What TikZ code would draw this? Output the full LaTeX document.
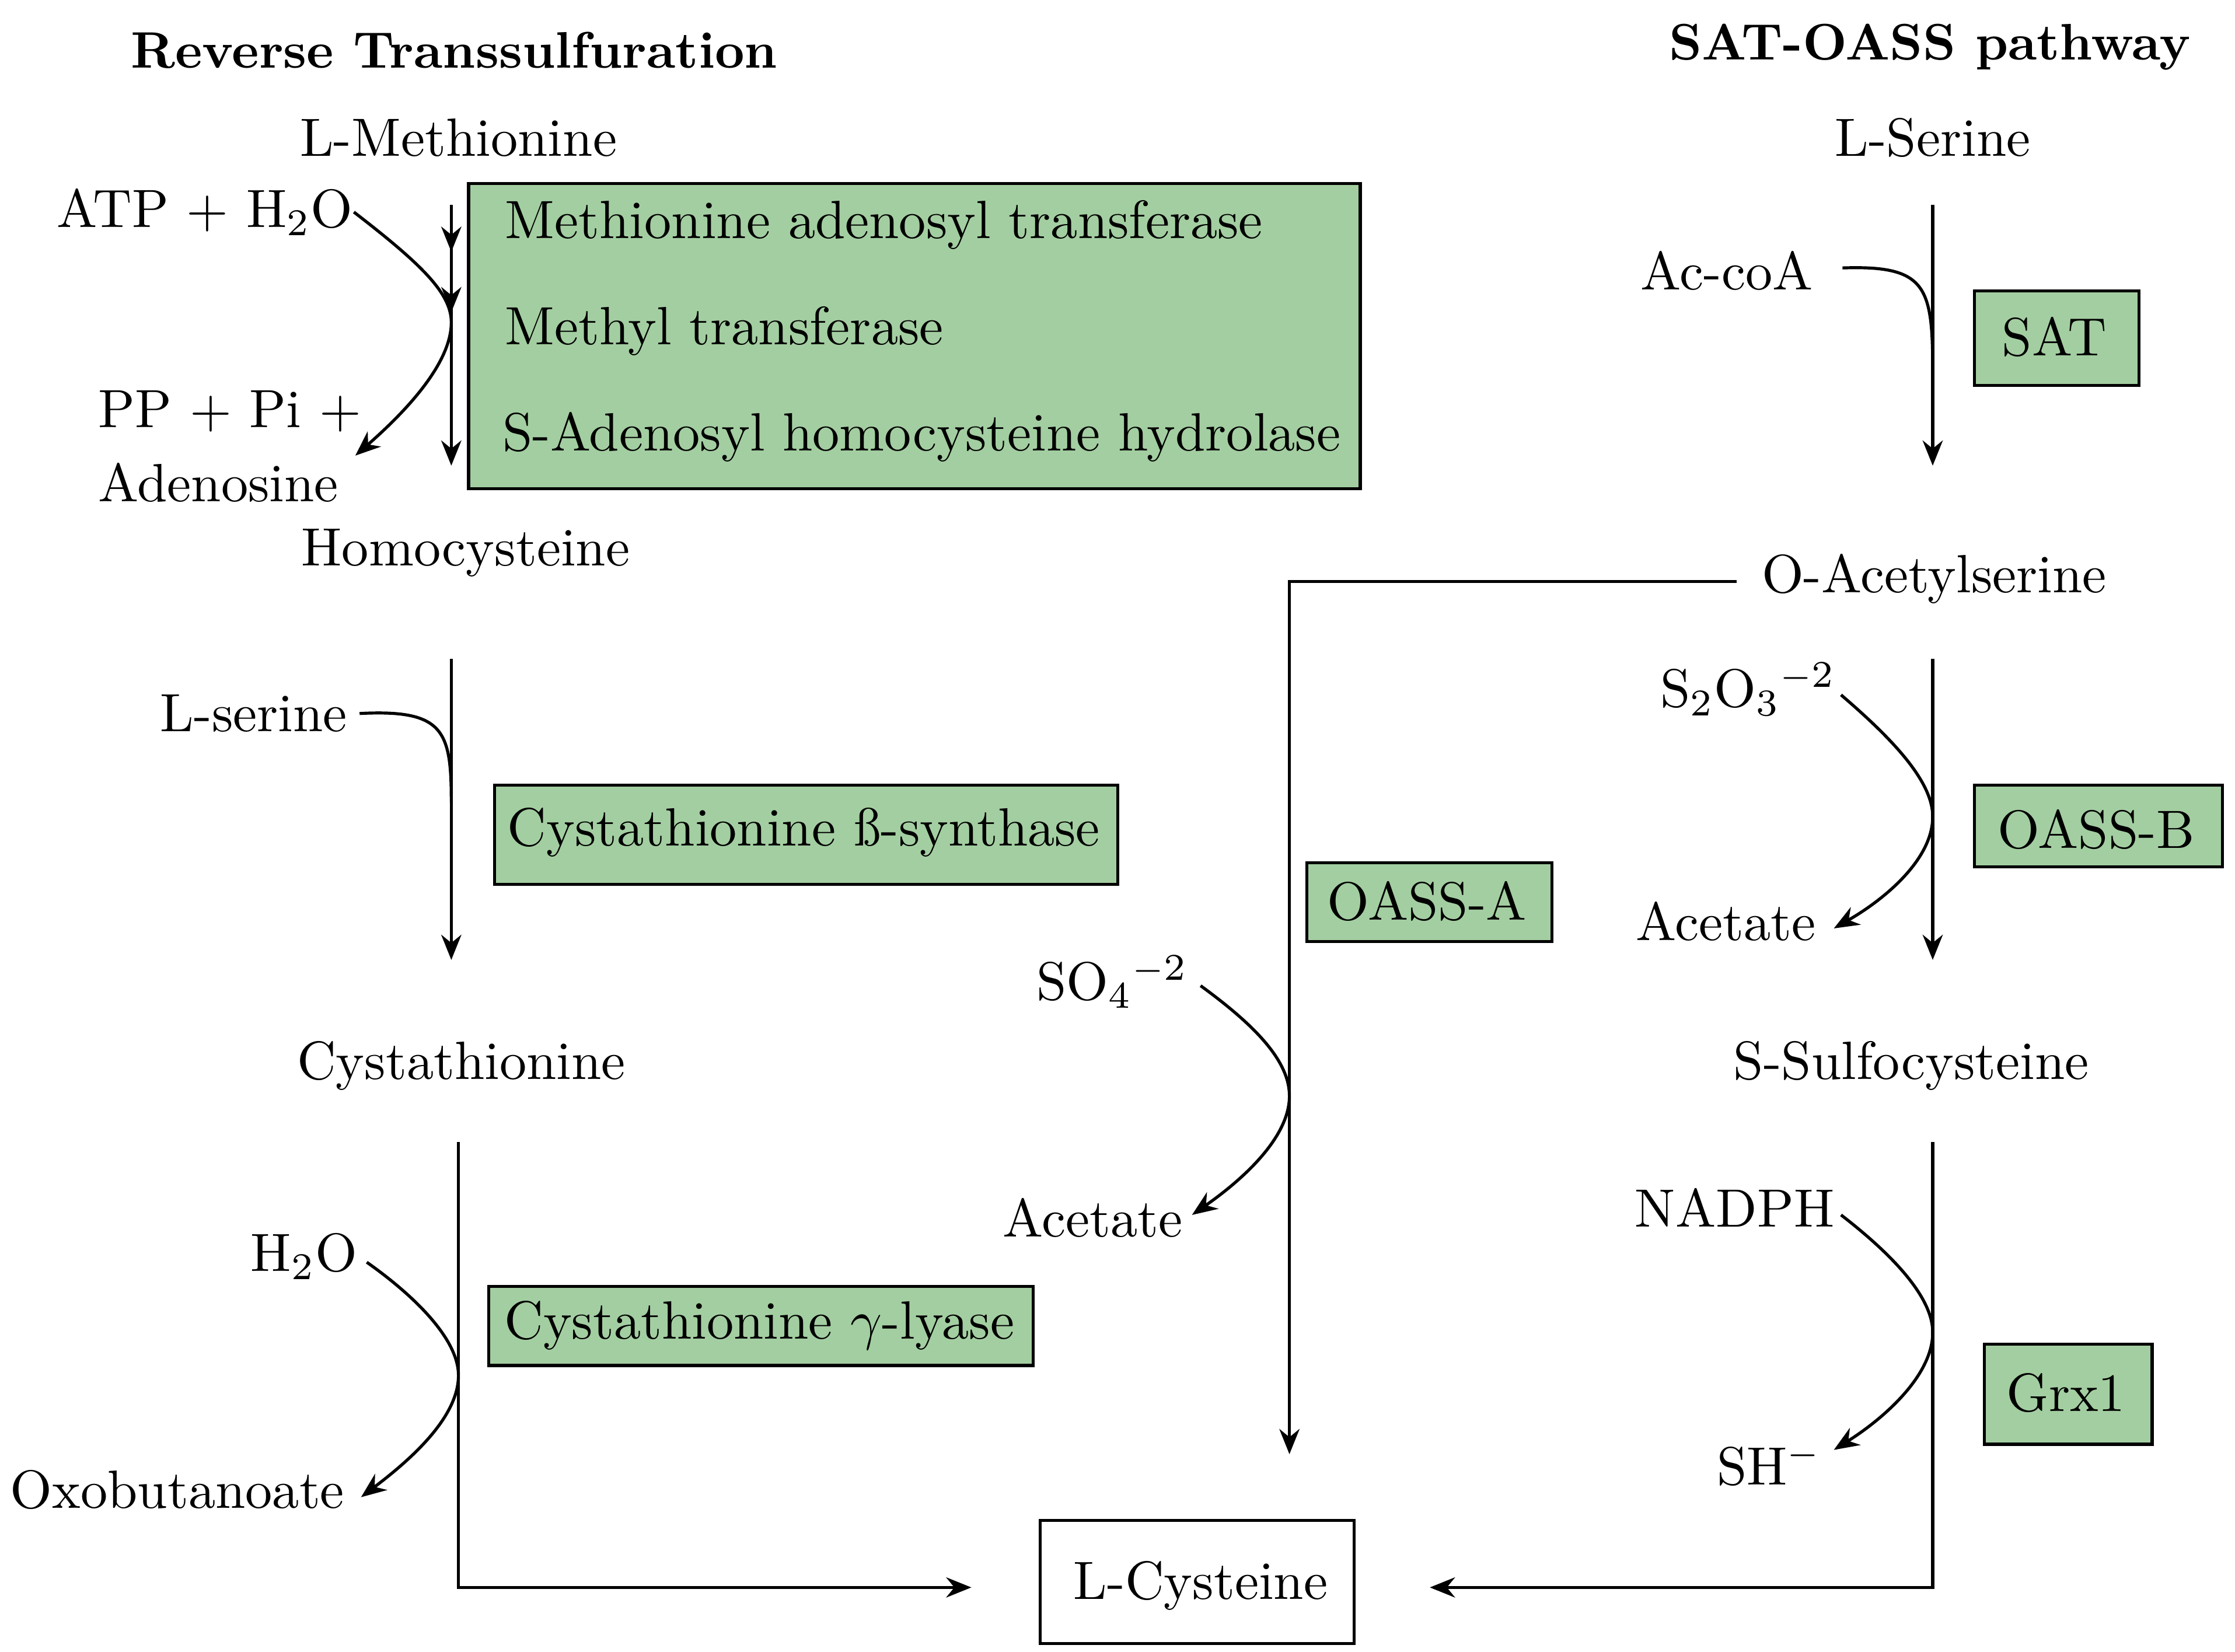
\documentclass[tikz,border=0pt]{standalone}
\usetikzlibrary{arrows.meta,decorations.markings}
\begin{document}
\begin{tikzpicture}[x=0.01cm,y=-0.01cm,
  every node/.style={font=\fontsize{10.7}{13}\selectfont,inner sep=0pt},
  enz/.style={draw=black,fill={rgb,255:red,163;green,206;blue,161},line width=0.6pt},
  ln/.style={line width=0.6pt},
  ar/.style={line width=0.6pt,-{Stealth[length=5pt,width=4pt]}},
  ttl/.style={font=\bfseries\fontsize{10.2}{13}\selectfont}]
\useasboundingbox (0,0) rectangle (1560,1153);
% titles
\node[ttl] (t1) at (317,35) {Reverse Transsulfuration};
\node[ttl] (t2) at (1347,33) {SAT-OASS pathway};
% left pathway
\node (met) at (320,96) {L-Methionine};
\node[anchor=east] (atp) at (247,148) {ATP + H\textsubscript{2}O};
\node[anchor=west] (pp) at (68,287) {PP + Pi +};
\node[anchor=west] (ado) at (68,337) {Adenosine};
\node[enz,minimum width=6.22cm,minimum height=2.13cm,anchor=north west] (box1) at (326,127) {};
\node[anchor=west] (e1) at (352,157) {Methionine adenosyl transferase};
\node[anchor=west] (e2) at (352,231) {Methyl transferase};
\node[anchor=west] (e3) at (350,305) {S-Adenosyl homocysteine hydrolase};
\coordinate (m1) at (315,143); \coordinate (m2) at (315,325);
\draw[ln,decoration={markings,mark=at position 0.28 with {\arrow{Stealth[length=5pt,width=4pt]}},mark=at position 0.64 with {\arrow{Stealth[length=5pt,width=4pt]}}},postaction=decorate] (m1) -- (315,260);
\draw[ar] (315,255) -- (m2);
\draw[ar] (atp.east) .. controls (295,185) and (315,205) .. (315,225) .. controls (315,255) and (280,290) .. (248,318);
\node (hcy) at (325,386) {Homocysteine};
\node[anchor=east] (lser) at (243,498) {L-serine};
\draw[ar] (315,460) -- (315,670);
\draw[ln] (lser.east) ++(8,0) .. controls (310,495) and (315,510) .. (315,560);
\node[enz,minimum width=4.35cm,minimum height=0.69cm,anchor=north west] (box2) at (344,547) {};
\node (e4) at (561,581) {Cystathionine ß-synthase};
\node (cys) at (322,744) {Cystathionine};
\node[anchor=east] (h2o) at (250,877) {H\textsubscript{2}O};
\node[anchor=east] (oxo) at (241,1040) {Oxobutanoate};
\draw[ar] (h2o.east) ++(6,4) .. controls (290,905) and (320,935) .. (320,960) .. controls (320,990) and (285,1020) .. (252,1045);
\node[enz,minimum width=3.8cm,minimum height=0.55cm,anchor=north west] (box3) at (340,897) {};
\node (e5) at (530,925) {Cystathionine $\gamma$-lyase};
\node[draw,line width=0.6pt,minimum width=2.19cm,minimum height=0.86cm,anchor=north west] (lcys) at (725,1060) {};
\node (lcyst) at (838,1107) {L-Cysteine};
\coordinate (c1) at (320,797); \coordinate (c2) at (320,1108); \coordinate (c3) at (678,1108);
\draw[ar] (c1) -- (c2) -- (c3);
% right pathway
\node (lserR) at (1349,96) {L-Serine};
\draw[ar] (1349,143) -- (1349,325);
\node[anchor=east] (acoa) at (1266,189) {Ac-coA};
\draw[ln] (1286,187) .. controls (1345,185) and (1349,200) .. (1349,260);
\node[enz,minimum width=1.15cm,minimum height=0.66cm,anchor=north west] (box4) at (1377,202) {};
\node (sat) at (1434,235) {SAT};
\node (oas) at (1350,404) {O-Acetylserine};
\coordinate (o1) at (1212,406); \coordinate (o2) at (900,406); \coordinate (o3) at (900,1015);
\draw[ar] (o1) -- (o2) -- (o3);
\node[enz,minimum width=1.71cm,minimum height=0.55cm,anchor=north west] (box5) at (911,601) {};
\node (oassa) at (996,629) {OASS-A};
\node[anchor=east] (so4) at (830,685) {SO\textsubscript{4}\textsuperscript{$-$2}};
\node[anchor=east] (ac1) at (826,850) {Acetate};
\draw[ar] (838,688) .. controls (875,715) and (900,740) .. (900,765) .. controls (900,795) and (865,825) .. (832,848);
\draw[ar] (1349,460) -- (1349,670);
\node[anchor=east] (s2o3) at (1282,481) {S\textsubscript{2}O\textsubscript{3}\textsuperscript{$-$2}};
\node[anchor=east] (ac2) at (1268,643) {Acetate};
\draw[ar] (1285,485) .. controls (1320,515) and (1349,545) .. (1349,570) .. controls (1349,600) and (1315,628) .. (1280,648);
\node[enz,minimum width=1.73cm,minimum height=0.57cm,anchor=north west] (box6) at (1377,547) {};
\node (oassb) at (1463,579) {OASS-B};
\node (ssc) at (1334,744) {S-Sulfocysteine};
\coordinate (s1) at (1349,797); \coordinate (s2) at (1349,1108); \coordinate (s3) at (998,1108);
\draw[ar] (s1) -- (s2) -- (s3);
\node[anchor=east] (nadph) at (1281,843) {NADPH};
\node[anchor=east] (sh) at (1272,1022) {SH\textsuperscript{$-$}};
\draw[ar] (1285,848) .. controls (1320,875) and (1349,905) .. (1349,930) .. controls (1349,960) and (1315,990) .. (1280,1012);
\node[enz,minimum width=1.17cm,minimum height=0.7cm,anchor=north west] (box7) at (1384,937) {};
\node (grx) at (1442,972) {Grx1};
\end{tikzpicture}
\end{document}
